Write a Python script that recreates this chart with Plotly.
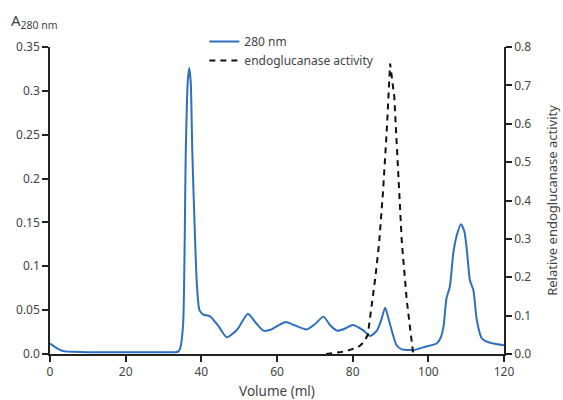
import plotly.graph_objects as go

# 280 nm absorbance (left axis)
vol_a280 = [0, 1, 2, 3, 4, 6, 10, 20, 30, 33, 34, 34.5, 35.2, 35.9, 36.4, 36.8, 37.2, 37.6, 38.2, 38.8,
            39.5, 40.5, 42.3, 44.5, 46.7, 49.5, 52.3, 54.5, 56.4, 58.5, 60.5, 62.3, 64.5, 67.9, 70, 72.3,
            74, 75.9, 78, 80, 82.8, 84.6, 86.4, 87.5, 88.6, 89.8, 91.6, 93, 96, 99, 102.2, 103.2, 104,
            104.8, 105.7, 106.6, 107.5, 108.6, 109.5, 110.1, 111, 111.9, 112.8, 114.1, 115.5, 117.2, 120]
a280 = [0.012, 0.009, 0.006, 0.004, 0.003, 0.0025, 0.002, 0.002, 0.002, 0.002, 0.003, 0.008, 0.035, 0.233,
        0.31, 0.326, 0.31, 0.233, 0.15, 0.081, 0.05, 0.045, 0.043, 0.032, 0.019, 0.028, 0.046, 0.035,
        0.0266, 0.028, 0.033, 0.0365, 0.033, 0.028, 0.034, 0.0426, 0.033, 0.0266, 0.029, 0.033, 0.027,
        0.0205, 0.0266, 0.038, 0.0528, 0.035, 0.010, 0.0053, 0.0046, 0.008, 0.012, 0.018, 0.031, 0.0635,
        0.077, 0.115, 0.135, 0.148, 0.14, 0.122, 0.084, 0.073, 0.039, 0.018, 0.014, 0.012, 0.010]

# Relative endoglucanase activity (right axis)
vol_act = [73, 75, 77, 79, 81, 82, 83, 84, 85, 86, 87, 88, 89, 89.9, 91, 92, 93, 94.3, 95.6, 96]
activity = [0, 0.002, 0.005, 0.01, 0.016, 0.022, 0.032, 0.05, 0.12, 0.2, 0.29, 0.42, 0.58, 0.757,
            0.67, 0.47, 0.29, 0.14, 0.019, 0.0]

x_ticks = [0, 20, 40, 60, 80, 100, 120]
y_left_ticks = [0, 0.05, 0.1, 0.15, 0.2, 0.25, 0.3, 0.35]
y_left_text = ["0.0", "0.05", "0.1", "0.15", "0.2", "0.25", "0.3", "0.35"]
y_right_ticks = [0, 0.1, 0.2, 0.3, 0.4, 0.5, 0.6, 0.7, 0.8]
y_right_text = ["0.0", "0.1", "0.2", "0.3", "0.4", "0.5", "0.6", "0.7", "0.8"]

FONT = "Noto Sans"
TXT = "#444444"
AX = "#222222"

fig = go.Figure()
fig.add_trace(go.Scatter(x=vol_a280, y=a280, mode="lines", name="280 nm",
                         line=dict(color="#2f6fbf", width=2, shape="spline", smoothing=0.6)))
fig.add_trace(go.Scatter(x=vol_act, y=activity, mode="lines", name="endoglucanase activity",
                         yaxis="y2", line=dict(color="#111111", width=2, dash="6px,5px")))

axis_common = dict(showgrid=False, zeroline=False, showline=True, linecolor=AX, linewidth=1.5,
                   ticks="outside", ticklen=6, tickwidth=1.5, tickcolor=AX, automargin=False,
                   tickfont=dict(family=FONT, size=12, color=TXT))

fig.update_layout(
    width=563, height=400,
    margin=dict(l=50, r=59, t=47, b=46, autoexpand=False),
    paper_bgcolor="white", plot_bgcolor="white",
    font=dict(family=FONT, size=12, color=TXT),
    xaxis=dict(range=[0, 120], tickvals=x_ticks,
               title=dict(text="Volume (ml)", font=dict(family=FONT, size=13.5, color=TXT), standoff=11),
               **axis_common),
    yaxis=dict(range=[0, 0.35], tickvals=y_left_ticks, ticktext=y_left_text, **axis_common),
    yaxis2=dict(range=[0, 0.8], tickvals=y_right_ticks, ticktext=y_right_text, overlaying="y",
                side="right",
                title=dict(text="Relative endoglucanase activity",
                           font=dict(family=FONT, size=13, color=TXT), standoff=18),
                **axis_common),
    legend=dict(x=0.34, y=1.065, xanchor="left", yanchor="top", bgcolor="rgba(0,0,0,0)",
                font=dict(family=FONT, size=12, color=TXT), tracegroupgap=0, itemwidth=30),
    showlegend=True,
)

fig.add_annotation(text="A<sub>280 nm</sub>", xref="paper", yref="paper",
                   x=-0.09, y=1.085, xanchor="left", yanchor="middle", showarrow=False,
                   font=dict(family=FONT, size=15, color=TXT))

fig.write_html("out.html")
